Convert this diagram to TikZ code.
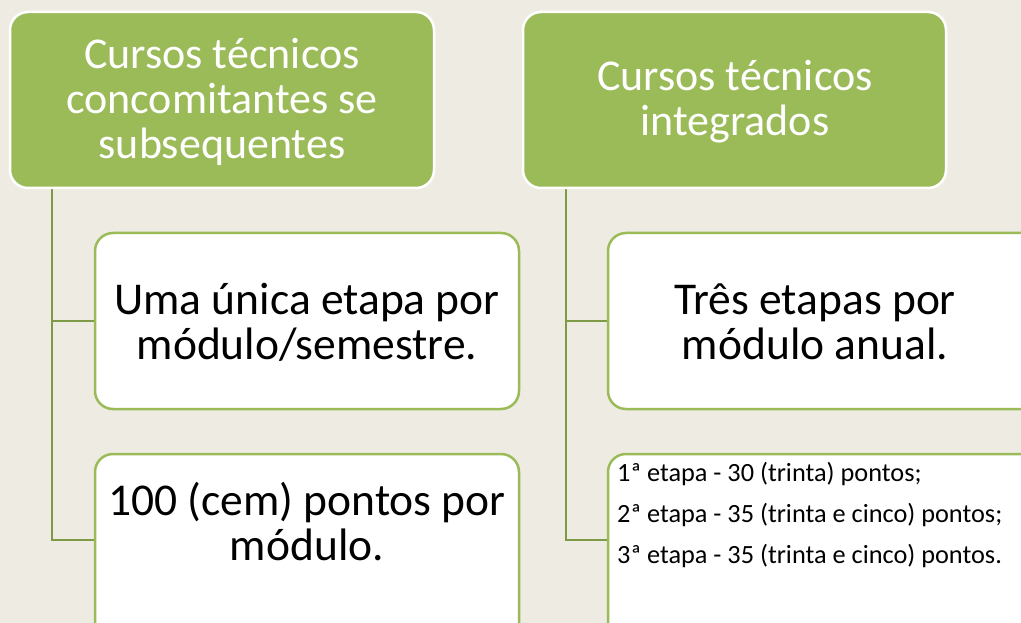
\documentclass[tikz,border=0pt]{standalone}
\usepackage{fontspec}
\setmainfont{Carlito}
\begin{document}
\begin{tikzpicture}[x=1pt,y=-1pt,
  parent/.style={draw=white,line width=2.5pt,fill=gcol,rounded corners=18pt},
  child/.style={draw=gcol,line width=2.5pt,fill=white,rounded corners=18pt},
  conn/.style={draw=lcol,line width=2.5pt},
  ptext/.style={text=white,align=center,font=\fontsize{44}{45}\selectfont},
  ctext/.style={text=black,align=center,font=\fontsize{45.5}{45}\selectfont},
  stext/.style={text=black,align=left,font=\fontsize{26.3}{41}\selectfont,anchor=base west,inner sep=0pt}]
\definecolor{gcol}{HTML}{9BBB59}
\definecolor{lcol}{HTML}{7E9A47}
\definecolor{bg}{HTML}{EEECE2}
\useasboundingbox (0,0) rectangle (1021,623);
\fill[bg] (0,0) rectangle (1021,623);
\begin{scope}
\clip (0,0) rectangle (1021,623);
% connectors
\coordinate (lt) at (52,188);
\coordinate (lb) at (52,540);
\coordinate (rt) at (566,188);
\coordinate (rb) at (566,540);
\draw[conn] (lt) -- (lb) -- (95,540);
\draw[conn] (52,321) -- (95,321);
\draw[conn] (rt) -- (rb) -- (608,540);
\draw[conn] (566,321) -- (608,321);
% boxes
\draw[parent] (10,12) rectangle (434,188);
\draw[parent] (523,12) rectangle (946,188);
\draw[child] (95,233) rectangle (519,409);
\draw[child] (95,454) rectangle (519,650);
\draw[child] (608,233) rectangle (1040,409);
\draw[child] (608,454) rectangle (1040,650);
\end{scope}
% texts
\node[ptext] (p1) at (222,102) {Cursos técnicos\\concomitantes se\\subsequentes};
\node[ptext] (p2) at (735,102) {Cursos técnicos\\integrados};
\node[ctext] (c1) at (307,322) {Uma única etapa por\\módulo/semestre.};
\node[ctext] (c2) at (307,522) {100 (cem) pontos por\\módulo.};
\node[ctext] (c3) at (815,322) {Três etapas por\\módulo anual.};
\node[stext] (c4) at (617,563) {1ª etapa - 30 (trinta) pontos;\\2ª etapa - 35 (trinta e cinco) pontos;\\3ª etapa - 35 (trinta e cinco) pontos.};
\end{tikzpicture}
\end{document}
